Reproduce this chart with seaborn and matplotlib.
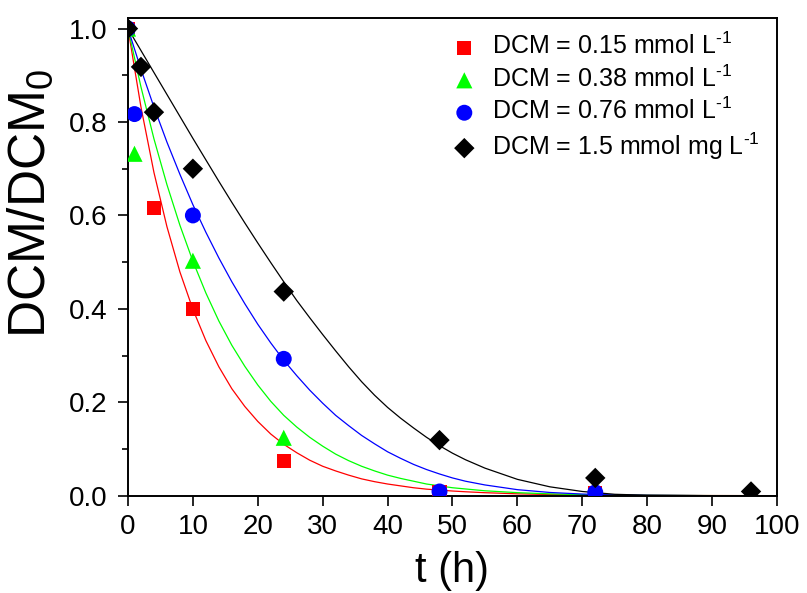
import matplotlib
matplotlib.use("Agg")
import matplotlib.pyplot as plt
from matplotlib.ticker import MultipleLocator, FormatStrFormatter
import seaborn as sns
import pandas as pd

# ---- measured data points ----
t_red = [0, 4, 10, 24, 48, 72]
v_red = [1.0, 0.615, 0.40, 0.075, 0.008, 0.005]
t_green = [0, 1, 10, 24, 48, 72]
v_green = [1.0, 0.732, 0.503, 0.124, 0.008, 0.003]
t_blue = [0, 1, 10, 24, 48, 72]
v_blue = [1.0, 0.817, 0.60, 0.293, 0.009, 0.007]
t_black = [0, 2, 4, 10, 24, 48, 72, 96]
v_black = [1.0, 0.918, 0.821, 0.70, 0.437, 0.119, 0.038, 0.009]

# ---- fitted curves ----
t_fit = [0, 2, 4, 6, 8, 10, 12, 14, 16, 18, 20, 22, 24, 26, 28, 30, 32, 34, 36,
         38, 40, 42, 44, 46, 48, 50, 52, 55, 60, 65, 70, 75, 80, 90, 100]
fit_red = [1.0, 0.832, 0.692, 0.576, 0.479, 0.399, 0.332, 0.276, 0.229, 0.191,
           0.159, 0.132, 0.110, 0.092, 0.076, 0.063, 0.053, 0.044, 0.036, 0.030,
           0.025, 0.021, 0.017, 0.014, 0.012, 0.010, 0.0084, 0.0064, 0.0040,
           0.0025, 0.0016, 0.0010, 0.0006, 0.0003, 0.0001]
fit_green = [1.0, 0.875, 0.764, 0.666, 0.579, 0.502, 0.434, 0.374, 0.322, 0.277,
             0.237, 0.202, 0.172, 0.147, 0.125, 0.106, 0.089, 0.075, 0.063, 0.053,
             0.044, 0.037, 0.031, 0.025, 0.021, 0.017, 0.0144, 0.0105, 0.0065,
             0.0039, 0.0023, 0.0013, 0.0007, 0.0002, 0.0001]
fit_blue = [1.0, 0.913, 0.832, 0.757, 0.688, 0.623, 0.564, 0.509, 0.458, 0.411,
            0.367, 0.327, 0.290, 0.257, 0.226, 0.198, 0.172, 0.150, 0.129, 0.111,
            0.094, 0.080, 0.067, 0.056, 0.0465, 0.038, 0.031, 0.023, 0.0129,
            0.0069, 0.0035, 0.0016, 0.0007, 0.0001, 0.0]
fit_black = [1.0, 0.953, 0.906, 0.859, 0.812, 0.765, 0.719, 0.673, 0.628, 0.584,
             0.541, 0.499, 0.458, 0.418, 0.381, 0.345, 0.310, 0.276, 0.244, 0.215,
             0.189, 0.166, 0.145, 0.125, 0.107, 0.091, 0.077, 0.059, 0.035,
             0.019, 0.009, 0.003, 0.001, 0.0, 0.0]

labels = [r"DCM = 0.15 mmol L$^{\text{-1}}$",
          r"DCM = 0.38 mmol L$^{\text{-1}}$",
          r"DCM = 0.76 mmol L$^{\text{-1}}$",
          r"DCM = 1.5 mmol mg L$^{\text{-1}}$"]
x_ticks = [0, 10, 20, 30, 40, 50, 60, 70, 80, 90, 100]

sns.set_style("ticks")
plt.rcParams["font.family"] = ["Liberation Sans", "DejaVu Sans"]
plt.rcParams["mathtext.fontset"] = "custom"
plt.rcParams["mathtext.rm"] = "Liberation Sans"
plt.rcParams["mathtext.it"] = "Liberation Sans"
plt.rcParams["mathtext.bf"] = "Liberation Sans"
for k in ["text.color", "axes.labelcolor", "xtick.color", "ytick.color",
          "xtick.labelcolor", "ytick.labelcolor", "axes.edgecolor"]:
    plt.rcParams[k] = "black"

fig = plt.figure(figsize=(8.07, 5.93), dpi=100)
ax = fig.add_axes([0.1586, 0.1641, 0.8042, 0.8050])

colors = ["#FF0000", "#00FF00", "#0000FF", "#000000"]
markers = ["s", "^", "o", "D"]
sizes = [102, 135, 132, 108]
pts = [(t_red, v_red), (t_green, v_green), (t_blue, v_blue), (t_black, v_black)]
fits = [fit_red, fit_green, fit_blue, fit_black]

for c, f in zip(colors, fits):
    dfl = pd.DataFrame({"t": t_fit, "v": f})
    sns.lineplot(data=dfl, x="t", y="v", color=c, lw=0.9, ax=ax, zorder=2,
                 sort=False, legend=False)

for (tt, vv), c, m, s, lab in zip(pts, colors, markers, sizes, labels):
    dfp = pd.DataFrame({"t": tt, "v": vv})
    sns.scatterplot(data=dfp, x="t", y="v", color=c, marker=m, s=s,
                    edgecolor="none", linewidth=0, ax=ax, zorder=3, label=lab)

ax.set_xlim(0, 100)
ax.set_ylim(0, 1.022)
ax.set_xticks(x_ticks)
ax.yaxis.set_major_locator(MultipleLocator(0.2))
ax.yaxis.set_minor_locator(MultipleLocator(0.1))
ax.yaxis.set_major_formatter(FormatStrFormatter("%.1f"))
ax.tick_params(axis="both", which="major", direction="out", length=7,
               width=1.2, labelsize=20, color="black", labelcolor="black")
ax.tick_params(axis="y", which="major", pad=8)
ax.tick_params(axis="x", which="major", pad=6)
ax.tick_params(axis="y", which="minor", direction="out", length=4, width=1.2)
for sp in ax.spines.values():
    sp.set_visible(True)
    sp.set_linewidth(1.4)
    sp.set_color("black")

ax.set_xlabel("t (h)", fontsize=30, labelpad=8)
ax.set_ylabel(r"DCM/DCM$_{\mathregular{0}}$", fontsize=37)
ax.yaxis.set_label_coords(-0.112, 0.612)

leg = ax.legend(loc="upper left", bbox_to_anchor=(0.472, 0.99), frameon=False,
                fontsize=18, handletextpad=0.3, labelspacing=0.24,
                borderaxespad=0, handlelength=1.6)

fig.savefig("out.png", dpi=100)
